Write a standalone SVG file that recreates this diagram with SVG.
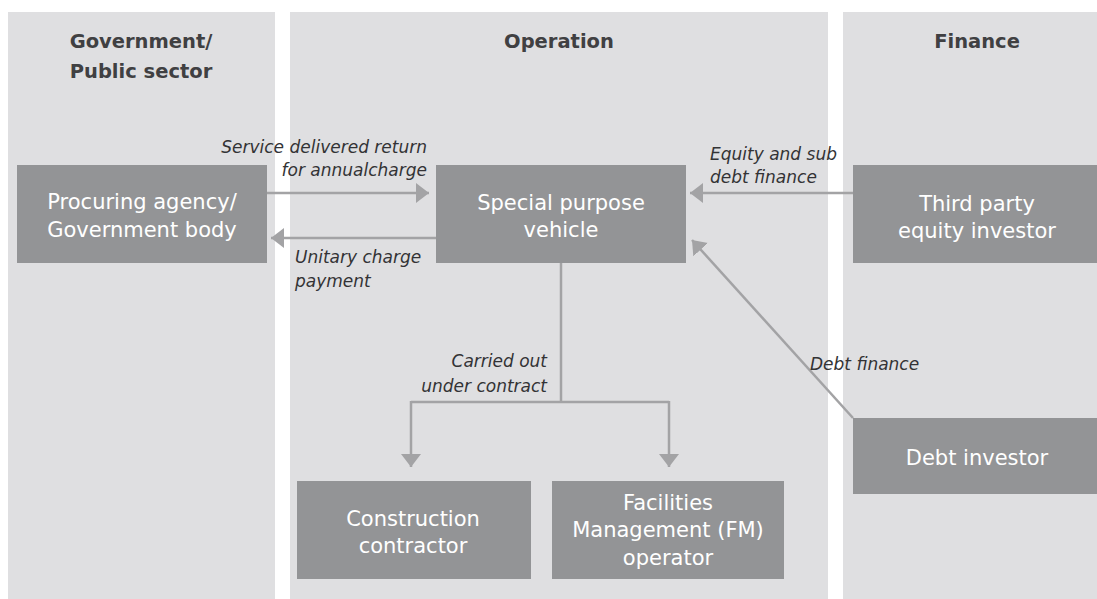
<svg xmlns="http://www.w3.org/2000/svg" width="1097" height="599" viewBox="0 0 1097 599">
  <style>
    .lane { fill: #dfdfe1; }
    .box { fill: #939496; }
    .head { font-family: "DejaVu Sans", "Liberation Sans", sans-serif; font-weight: bold; font-size: 19.5px; fill: #404042; text-anchor: middle; }
    .label { font-family: "DejaVu Sans", "Liberation Sans", sans-serif; font-size: 21px; fill: #ffffff; text-anchor: middle; }
    .note { font-family: "DejaVu Sans", "Liberation Sans", sans-serif; font-style: italic; font-size: 17px; fill: #333335; }
    .link { stroke: #a3a3a5; stroke-width: 2.5; fill: none; }
  </style>
  <defs>
    <marker id="arrow" markerUnits="userSpaceOnUse" markerWidth="14" markerHeight="20" viewBox="0 0 14 20" refX="13" refY="10" orient="auto">
      <path d="M0,0 L13,10 L0,20 Z" fill="#a3a3a5"/>
    </marker>
  </defs>

  <rect width="1097" height="599" fill="#ffffff"/>

  <!-- swimlanes -->
  <g id="lanes">
    <rect class="lane" x="8" y="12" width="267" height="587"/>
    <rect class="lane" x="290" y="12" width="538" height="587"/>
    <rect class="lane" x="843" y="12" width="254" height="587"/>
    <text class="head" x="141" y="48">Government/</text>
    <text class="head" x="141" y="78">Public sector</text>
    <text class="head" x="559" y="48">Operation</text>
    <text class="head" x="977" y="48">Finance</text>
  </g>

  <!-- connectors -->
  <g id="connectors">
    <path class="link" d="M267,193 H429" marker-end="url(#arrow)"/>
    <path class="link" d="M436,238 H271" marker-end="url(#arrow)"/>
    <path class="link" d="M853,193 H690" marker-end="url(#arrow)"/>
    <path class="link" d="M853,418 L692,240" marker-end="url(#arrow)"/>
    <path class="link" d="M561,263 V402"/>
    <path class="link" d="M411,402 H669"/>
    <path class="link" d="M411,401 V467" marker-end="url(#arrow)"/>
    <path class="link" d="M669,401 V467" marker-end="url(#arrow)"/>
    <text class="note" x="427" y="153" text-anchor="end">Service delivered return</text>
    <text class="note" x="427" y="176" text-anchor="end">for annualcharge</text>
    <text class="note" x="295" y="263">Unitary charge</text>
    <text class="note" x="295" y="287">payment</text>
    <text class="note" x="710" y="160">Equity and sub</text>
    <text class="note" x="710" y="183">debt finance</text>
    <text class="note" x="810" y="370">Debt finance</text>
    <text class="note" x="547" y="367" text-anchor="end">Carried out</text>
    <text class="note" x="547" y="392" text-anchor="end">under contract</text>
  </g>

  <g id="procuring-agency">
    <rect class="box" x="17" y="165" width="250" height="98"/>
    <text class="label" x="142" y="209">Procuring agency/</text>
    <text class="label" x="142" y="237">Government body</text>
  </g>

  <g id="special-purpose-vehicle">
    <rect class="box" x="436" y="165" width="250" height="98"/>
    <text class="label" x="561" y="210">Special purpose</text>
    <text class="label" x="561" y="237">vehicle</text>
  </g>

  <g id="third-party-equity-investor">
    <rect class="box" x="853" y="165" width="244" height="98"/>
    <text class="label" x="977" y="211">Third party</text>
    <text class="label" x="977" y="238">equity investor</text>
  </g>

  <g id="debt-investor">
    <rect class="box" x="853" y="418" width="244" height="76"/>
    <text class="label" x="977" y="465">Debt investor</text>
  </g>

  <g id="construction-contractor">
    <rect class="box" x="297" y="481" width="234" height="98"/>
    <text class="label" x="413" y="526">Construction</text>
    <text class="label" x="413" y="553">contractor</text>
  </g>

  <g id="fm-operator">
    <rect class="box" x="552" y="481" width="232" height="98"/>
    <text class="label" x="668" y="510">Facilities</text>
    <text class="label" x="668" y="537">Management (FM)</text>
    <text class="label" x="668" y="565">operator</text>
  </g>
</svg>
